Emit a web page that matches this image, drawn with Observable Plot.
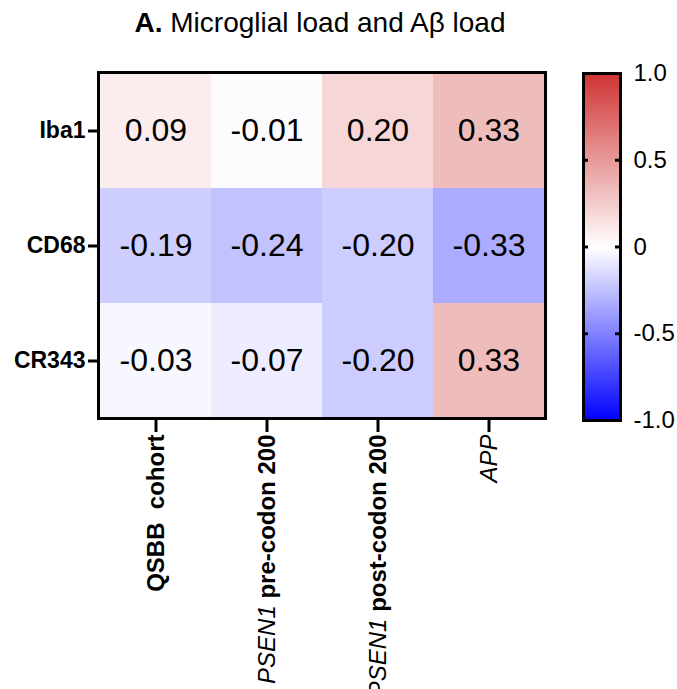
<!DOCTYPE html>
<html>
<head>
<meta charset="utf-8">
<script src="https://cdn.jsdelivr.net/npm/d3@7"></script>
<script src="https://cdn.jsdelivr.net/npm/@observablehq/plot@0.6"></script>
<style>
  html, body { margin: 0; padding: 0; background: #fff; }
  #wrap { position: relative; width: 677px; height: 689px; overflow: hidden; font-family: "Liberation Sans", Arial, Helvetica, sans-serif; }
  #title { position: absolute; left: 0; top: 7px; width: 640px; text-align: center; font-size: 28px; line-height: 32px; color: #000; }
  #heat { position: absolute; left: 0; top: 50px; }
  #bar { position: absolute; left: 560px; top: 50px; }
  svg text { white-space: pre; }
</style>
</head>
<body>
<div id="wrap">
  <div id="title"><b>A.</b> Microglial load and Aβ load</div>
  <div id="heat"></div>
  <div id="bar"></div>
</div>
<script>
const groups = ["QSBB  cohort", "PSEN1 pre-codon 200", "PSEN1 post-codon 200", "APP"];
const markers = ["Iba1", "CD68", "CR343"];
const iba1 = [0.09, -0.01, 0.20, 0.33];
const cd68 = [-0.19, -0.24, -0.20, -0.33];
const cr343 = [-0.03, -0.07, -0.20, 0.33];
const legendTicks = [-1, -0.5, 0, 0.5, 1];
const legendTickLabels = ["-1.0", "-0.5", "0", "0.5", "1.0"];

const rows = [iba1, cd68, cr343];
const data = [];
markers.forEach((m, i) => groups.forEach((g, j) => data.push({marker: m, group: g, value: rows[i][j]})));

const font = '"Liberation Sans", Arial, Helvetica, sans-serif';
const colorOpts = {type: "linear", domain: [-1, 0, 1], range: ["#0000ff", "#ffffff", "#d03434"], interpolate: "rgb"};

const heat = Plot.plot({
  width: 560, height: 639,
  marginTop: 22, marginLeft: 98, marginRight: 15, marginBottom: 271,
  style: {fontFamily: font, background: "transparent", overflow: "visible", color: "#000"},
  x: {domain: groups, padding: 0, label: null},
  y: {domain: markers, padding: 0, label: null},
  color: colorOpts,
  marks: [
    Plot.cell(data, {x: "group", y: "marker", fill: "value", inset: 0}),
    Plot.text(data, {x: "group", y: "marker", text: d => d.value.toFixed(2), fontSize: 32, fill: "#000"}),
    Plot.frame({stroke: "#000", strokeWidth: 3}),
    Plot.axisY({tickSize: 10, strokeWidth: 3, tickPadding: 3, fontSize: 23, fontWeight: "bold", label: null}),
    Plot.axisX({tickSize: 14, strokeWidth: 3, tickPadding: 2, tickRotate: -90, fontSize: 24, fontWeight: "bold", label: null})
  ]
});
document.getElementById("heat").appendChild(heat);

// mixed styling of x tick labels
d3.select(heat).selectAll('g[aria-label="x-axis tick label"] text').each(function() {
  const t = d3.select(this);
  const s = t.text();
  if (s.startsWith("PSEN1")) {
    t.text(null);
    t.append("tspan").attr("font-style", "italic").attr("font-weight", "normal").text("PSEN1");
    t.append("tspan").attr("font-weight", "bold").text(s.slice(5));
  } else if (s === "APP") {
    t.attr("font-style", "italic").attr("font-weight", "normal");
  }
});

const steps = d3.range(-1, 1, 0.005).map(a => ({a, b: a + 0.005, v: a + 0.0025}));
const bar = Plot.plot({
  width: 117, height: 639,
  marginTop: 23, marginBottom: 269, marginLeft: 23, marginRight: 57,
  style: {fontFamily: font, background: "transparent", overflow: "visible", color: "#000"},
  y: {domain: [-1, 1], label: null},
  color: colorOpts,
  marks: [
    Plot.rect(steps, {y1: "a", y2: "b", fill: "v", insetTop: -0.8, insetBottom: -0.8, shapeRendering: "crispEdges"}),
    Plot.tickY(legendTicks, {insetRight: 32, strokeWidth: 3, stroke: "#000"}),
    Plot.tickY(legendTicks, {insetLeft: 32, strokeWidth: 3, stroke: "#000"}),
    Plot.frame({stroke: "#000", strokeWidth: 3}),
    Plot.axisY(legendTicks, {anchor: "right", tickSize: 0, tickPadding: 13, fontSize: 24, label: null,
      tickFormat: d => legendTickLabels[legendTicks.indexOf(d)]})
  ]
});
document.getElementById("bar").appendChild(bar);
</script>
</body>
</html>
